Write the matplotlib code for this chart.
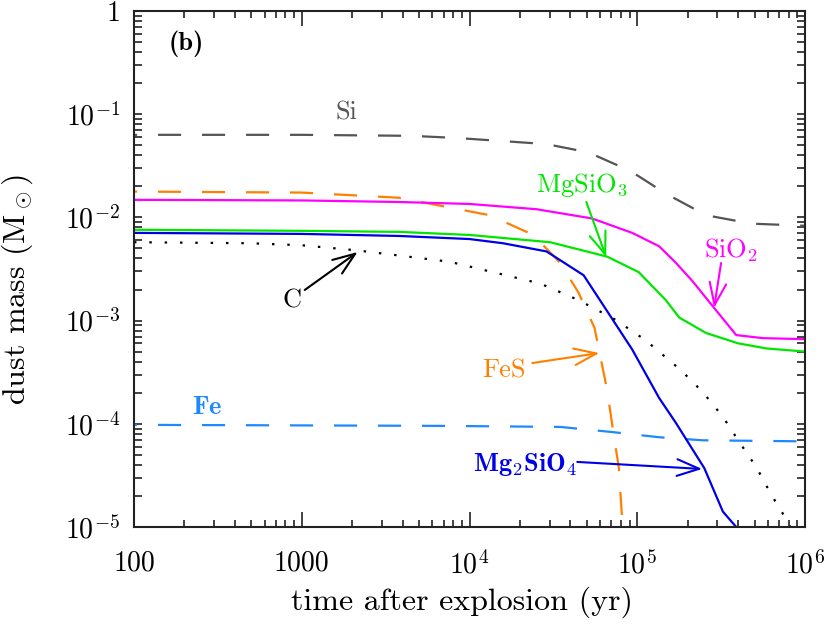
import matplotlib
matplotlib.use("Agg")
import matplotlib.pyplot as plt
from matplotlib.ticker import FixedLocator, FixedFormatter, LogLocator, NullFormatter

plt.rcParams['font.family'] = ['cmr10', 'DejaVu Serif']
plt.rcParams['mathtext.fontset'] = 'cm'
plt.rcParams['axes.unicode_minus'] = False

# ---- data (time in yr, dust mass in Msun) ----
t_si = [100, 1000, 4500, 8300, 15500, 28800, 51000, 91000, 148000, 257000, 479000, 1e6]
m_si = [0.0631, 0.0631, 0.0617, 0.0589, 0.0550, 0.0513, 0.0427, 0.0282, 0.0170, 0.0105, 0.0087, 0.0083]

t_sio2 = [100, 1000, 3800, 10000, 25100, 53700, 93300, 135000, 170000, 214000, 288000, 389000, 562000, 1e6]
m_sio2 = [0.0148, 0.0146, 0.0141, 0.0135, 0.0120, 0.00977, 0.00708, 0.00525, 0.00363, 0.00240, 0.00132,
          0.000724, 0.000676, 0.000661]

t_mgsio3 = [100, 1000, 3800, 10000, 30200, 66100, 102000, 148000, 178000, 257000, 398000, 589000, 1e6]
m_mgsio3 = [0.00759, 0.00741, 0.00724, 0.00676, 0.00575, 0.00417, 0.00295, 0.00158, 0.00107, 0.000759,
            0.000603, 0.000537, 0.000501]

t_mg2sio4 = [100, 1000, 3800, 10000, 15800, 28800, 47900, 67600, 93300, 135000, 170000, 251000, 324000, 389000, 447000]
m_mg2sio4 = [0.00708, 0.00692, 0.00661, 0.00617, 0.00562, 0.00468, 0.00275, 0.00117, 0.000525, 0.000178,
             0.000102, 3.72e-5, 1.41e-5, 1.0e-5, 7.6e-6]

t_c = [100, 490, 1000, 2140, 7590, 26300, 44700, 74100, 112000, 182000, 245000, 324000, 407000, 513000,
       631000, 708000, 776000, 851000]
m_c = [0.00575, 0.00562, 0.00537, 0.00479, 0.00372, 0.00229, 0.00158, 0.00102, 0.000646, 0.000331,
       0.000204, 0.000117, 6.61e-5, 3.80e-5, 2.04e-5, 1.51e-5, 1.17e-5, 8.9e-6]

t_fes = [100, 1000, 3800, 13200, 24000, 34700, 44700, 55600, 60300, 66100, 72400, 77600, 81300, 84100]
m_fes = [0.0178, 0.0174, 0.0155, 0.0105, 0.00676, 0.00363, 0.00186, 0.000851, 0.000447, 0.000214,
         7.76e-5, 3.80e-5, 1.17e-5, 6.3e-6]

t_fe = [100, 6610, 34700, 70800, 135000, 245000, 1e6]
m_fe = [9.77e-5, 9.55e-5, 9.33e-5, 8.32e-5, 7.41e-5, 6.92e-5, 6.76e-5]

x_ticks = [100, 1000, 1e4, 1e5, 1e6]
x_labels = ['100', '1000', r'$10^4$', r'$10^5$', r'$10^6$']
y_ticks = [1e-5, 1e-4, 1e-3, 1e-2, 1e-1, 1]
y_labels = [r'$10^{-5}$', r'$10^{-4}$', r'$10^{-3}$', r'$10^{-2}$', r'$10^{-1}$', '1']

# ---- figure ----
fig = plt.figure(figsize=(8.30, 6.34), dpi=100)
ax = fig.add_axes([134/830, 1-527/634, (805-134)/830, (527-11)/634])
ax.set_xscale('log')
ax.set_yscale('log')
ax.set_xlim(100, 1e6)
ax.set_ylim(1e-5, 1)

lw = 1.6
dash_off = (9.0, (10.4, 9.4))
ax.plot(t_si, m_si, color='#555555', lw=lw, linestyle=dash_off)
ax.plot(t_fes, m_fes, color='#ff8000', lw=lw, linestyle=dash_off)
ax.plot(t_fe, m_fe, color='#1e88ff', lw=lw, linestyle=dash_off)
ax.plot(t_sio2, m_sio2, color='#ff00ff', lw=lw)
ax.plot(t_mgsio3, m_mgsio3, color='#00e600', lw=lw)
ax.plot(t_mg2sio4, m_mg2sio4, color='#0000e6', lw=lw)
ax.plot(t_c, m_c, color='black', lw=lw, linestyle=(0, (1.1, 5.8)))

# ticks
ax.xaxis.set_major_locator(FixedLocator(x_ticks))
ax.xaxis.set_major_formatter(FixedFormatter(x_labels))
ax.yaxis.set_major_locator(FixedLocator(y_ticks))
ax.yaxis.set_major_formatter(FixedFormatter(y_labels))
ax.xaxis.set_minor_locator(LogLocator(base=10, subs=range(2, 10), numticks=20))
ax.yaxis.set_minor_locator(LogLocator(base=10, subs=range(2, 10), numticks=20))
ax.xaxis.set_minor_formatter(NullFormatter())
ax.yaxis.set_minor_formatter(NullFormatter())
ax.tick_params(axis='both', which='both', direction='in', top=True, right=True,
               width=1.2, color='#222222', labelsize=20)
ax.tick_params(axis='x', which='major', length=11, pad=17)
ax.tick_params(axis='x', which='minor', length=5)
ax.tick_params(axis='y', which='major', length=6, pad=10)
ax.tick_params(axis='y', which='minor', length=6)
for s in ax.spines.values():
    s.set_linewidth(1.5)
    s.set_color('#222222')

ax.set_xlabel('time after explosion (yr)', fontsize=23)
ax.set_ylabel(r'dust mass (M$_\odot$)', fontsize=23)
ax.xaxis.set_label_coords(0.489, -0.115)
ax.yaxis.set_label_coords(-0.148, 0.46)

# labels
fs = 19
ax.text(204, 0.479, '(b)', fontsize=fs, fontfamily='cmb10', ha='center', va='center')
ax.text(1854, 0.103, 'Si', fontsize=fs, color='#555555', ha='center', va='center')
ax.text(46400, 0.0206, r'MgSiO$_3$', fontsize=fs, color='#00e600', ha='center', va='center')
ax.text(363000, 0.00483, r'SiO$_2$', fontsize=fs, color='#ff00ff', ha='center', va='center')
ax.text(871, 0.00155, 'C', fontsize=fs, color='black', ha='center', va='center')
ax.text(16100, 3.3e-4, 'FeS', fontsize=fs, color='#ff8000', ha='center', va='center')
ax.text(272, 1.46e-4, r'$\mathbf{Fe}$', fontsize=fs, color='#1e88ff', ha='center', va='center')
ax.text(21500, 4.0e-5, r'$\mathbf{Mg_2SiO_4}$', fontsize=fs, color='#0000e6', ha='center', va='center')

arrow_kw = dict(arrowstyle='->,head_length=0.8,head_width=0.3', lw=1.5, shrinkA=0, shrinkB=0,
                mutation_scale=20)
ax.annotate('', xy=(65300, 0.00413), xytext=(49700, 0.0141), arrowprops=dict(color='#00e600', **arrow_kw))
ax.annotate('', xy=(287000, 0.001325), xytext=(316000, 0.00361), arrowprops=dict(color='#ff00ff', **arrow_kw))
ax.annotate('', xy=(2153, 0.00462), xytext=(1042, 0.00198), arrowprops=dict(color='black', **arrow_kw))
ax.annotate('', xy=(59400, 4.85e-4), xytext=(23700, 3.88e-4), arrowprops=dict(color='#ff8000', **arrow_kw))
ax.annotate('', xy=(243800, 3.65e-5), xytext=(43900, 4.27e-5), arrowprops=dict(color='#0000e6', **arrow_kw))

fig.savefig('out.png', dpi=100)
